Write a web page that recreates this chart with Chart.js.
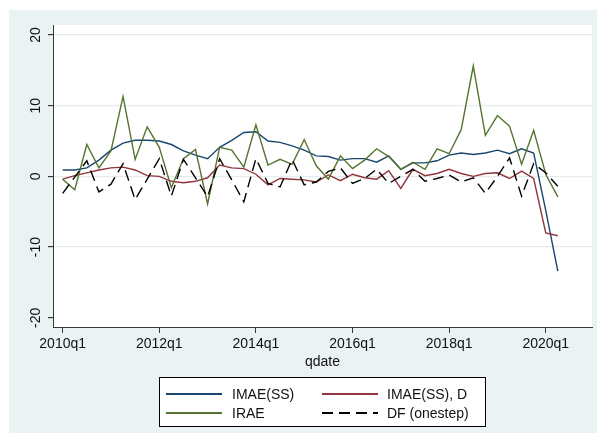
<!DOCTYPE html>
<html><head><meta charset="utf-8">
<script src="https://cdn.jsdelivr.net/npm/chart.js@4.4.1/dist/chart.umd.min.js"></script>
<style>html,body{margin:0;padding:0;background:#fff}canvas{display:block}</style>
</head><body>
<canvas id="c" width="597" height="439"></canvas>
<script>
const quarters = ["2010q1","2010q2","2010q3","2010q4","2011q1","2011q2","2011q3","2011q4",
  "2012q1","2012q2","2012q3","2012q4","2013q1","2013q2","2013q3","2013q4",
  "2014q1","2014q2","2014q3","2014q4","2015q1","2015q2","2015q3","2015q4",
  "2016q1","2016q2","2016q3","2016q4","2017q1","2017q2","2017q3","2017q4",
  "2018q1","2018q2","2018q3","2018q4","2019q1","2019q2","2019q3","2019q4",
  "2020q1","2020q2"];
const imaeSS = [0.9,0.9,1.2,2.3,3.7,4.7,5.1,5.1,5.0,4.5,3.6,3.0,2.5,4.1,5.1,6.2,6.3,5.0,4.8,4.3,3.7,2.9,2.8,2.3,2.5,2.5,2.0,2.9,1.0,1.9,1.9,2.2,3.0,3.3,3.1,3.3,3.7,3.2,3.9,3.3,-4.8,-13.4];
const imaeSSD = [-0.4,0.1,0.5,0.9,1.2,1.3,0.9,0.1,0.0,-0.7,-0.9,-0.7,-0.2,1.6,1.2,1.1,0.3,-1.2,-0.3,-0.4,-0.5,-0.8,0.2,-0.6,0.3,-0.2,-0.4,0.8,-1.7,1.0,0.1,0.4,1.0,0.4,0.0,0.4,0.5,-0.3,0.75,-0.3,-8.0,-8.4];
const irae = [-0.4,-1.9,4.5,1.2,3.6,11.3,2.4,7.0,4.1,-1.6,2.5,3.8,-3.9,4.1,3.7,1.3,7.3,1.6,2.4,1.7,5.2,1.5,-0.4,2.9,1.1,2.3,3.9,2.8,1.0,2.0,1.0,3.9,3.2,6.6,15.6,5.8,8.6,7.1,1.7,6.5,0.3,-2.9];
const dfOnestep = [-2.4,-0.1,2.2,-2.2,-1.1,1.8,-3.3,-0.4,2.5,-2.8,2.4,-0.2,-2.9,2.5,-0.5,-3.6,2.5,-1.0,-1.5,2.4,-1.2,-0.8,0.7,1.2,-1.0,-0.3,1.0,-1.0,0.0,1.0,-0.7,-0.3,0.2,-0.8,-0.2,-2.4,0.0,2.6,-2.8,1.8,0.5,-1.4];
const xTickLabels = ["2010q1","2012q1","2014q1","2016q1","2018q1","2020q1"];
const yTickValues = [-20,-10,0,10,20];
const seriesNames = ["IMAE(SS)","IMAE(SS), D","IRAE","DF (onestep)"];

const FONT = '"Liberation Sans", Arial, sans-serif';
const BG = '#EAF2F3';
const AX = '#3a3a3a';
const pts = arr => arr.map((v,i)=>({x:i,y:v}));
const xTickPos = xTickLabels.map(l => quarters.indexOf(l));

const bgPlugin = {
  id:'bg',
  beforeDraw(chart){
    const {ctx, chartArea:a} = chart;
    ctx.save();
    ctx.fillStyle = '#fff'; ctx.fillRect(0,0,chart.width,chart.height);
    ctx.fillStyle = BG; ctx.fillRect(9,10,chart.width-9,423);
    ctx.fillStyle = '#fff'; ctx.fillRect(a.left,a.top,a.right-a.left,a.bottom-a.top);
    ctx.restore();
  },
  afterDraw(chart){
    const ctx = chart.ctx;
    const ys = chart.scales.y;
    ctx.save();
    ctx.fillStyle = '#111';
    ctx.font = '14px ' + FONT;
    ctx.textAlign = 'center'; ctx.textBaseline = 'middle';
    yTickValues.forEach(v => {
      const py = ys.getPixelForValue(v);
      ctx.save(); ctx.translate(36, py); ctx.rotate(-Math.PI/2);
      ctx.fillText(String(v), 0, 0); ctx.restore();
    });
    // legend
    const L = {x:159.5, y:377.5, w:326, h:49};
    ctx.fillStyle = '#fff'; ctx.fillRect(L.x,L.y,L.w,L.h);
    ctx.strokeStyle = '#000'; ctx.lineWidth = 1; ctx.strokeRect(L.x,L.y,L.w,L.h);
    const colLine = [166, 322], colText = [232, 387], rowY = [394, 413];
    chart.data.datasets.forEach((ds, k) => {
      const c = k % 2, r = Math.floor(k / 2);
      ctx.save();
      ctx.strokeStyle = ds.borderColor; ctx.lineWidth = 1.8;
      ctx.setLineDash(ds.borderDash || []);
      ctx.beginPath(); ctx.moveTo(colLine[c], rowY[r]); ctx.lineTo(colLine[c]+56, rowY[r]); ctx.stroke();
      ctx.restore();
      ctx.fillStyle = '#111'; ctx.textAlign = 'left'; ctx.textBaseline = 'middle';
      ctx.font = '14px ' + FONT;
      ctx.fillText(ds.label, colText[c], rowY[r]+1);
    });
    ctx.restore();
  }
};

new Chart(document.getElementById('c'), {
  type: 'line',
  data: {
    datasets: [
      {label: seriesNames[0], data: pts(imaeSS), borderColor:'#1a476f', borderWidth:1.4, order:4},
      {label: seriesNames[1], data: pts(imaeSSD), borderColor:'#90353b', borderWidth:1.4, order:3},
      {label: seriesNames[2], data: pts(irae), borderColor:'#55752f', borderWidth:1.4, order:2},
      {label: seriesNames[3], data: pts(dfOnestep), borderColor:'#000000', borderWidth:1.4, borderDash:[11,6], order:1}
    ]
  },
  options: {
    responsive:false, animation:false, devicePixelRatio:1,
    elements:{point:{radius:0}, line:{tension:0}},
    layout:{padding:{left:9, top:25, right:5, bottom:68}},
    plugins:{legend:{display:false}, tooltip:{enabled:false}},
    scales:{
      x:{
        type:'linear', min:-0.8, max:43.83,
        afterBuildTicks: s => { s.ticks = xTickPos.map(v=>({value:v})); },
        afterFit: s => { s.height = 44; },
        ticks:{ color:'#111', font:{family:FONT, size:14}, padding:3, maxRotation:0, autoSkip:false,
          callback: v => quarters[v] },
        grid:{ display:true, drawOnChartArea:false, drawTicks:true, tickLength:6, tickColor:AX },
        border:{ display:true, color:AX, width:1 },
        title:{ display:true, text:'qdate', color:'#111', font:{family:FONT, size:14}, padding:{top:1,bottom:0} }
      },
      y:{
        type:'linear', min:-21.3, max:21.4,
        afterBuildTicks: s => { s.ticks = yTickValues.map(v=>({value:v})); },
        afterFit: s => { s.width = 44; },
        ticks:{ display:false },
        grid:{ display:true, drawOnChartArea:true, drawTicks:true, tickLength:5, tickColor:AX,
          color: c => (c.tick && c.tick.value === -20) ? 'rgba(0,0,0,0)' : '#E3ECEF', lineWidth:1.2 },
        border:{ display:true, color:AX, width:1 }
      }
    }
  },
  plugins:[bgPlugin]
});
</script>
</body></html>
